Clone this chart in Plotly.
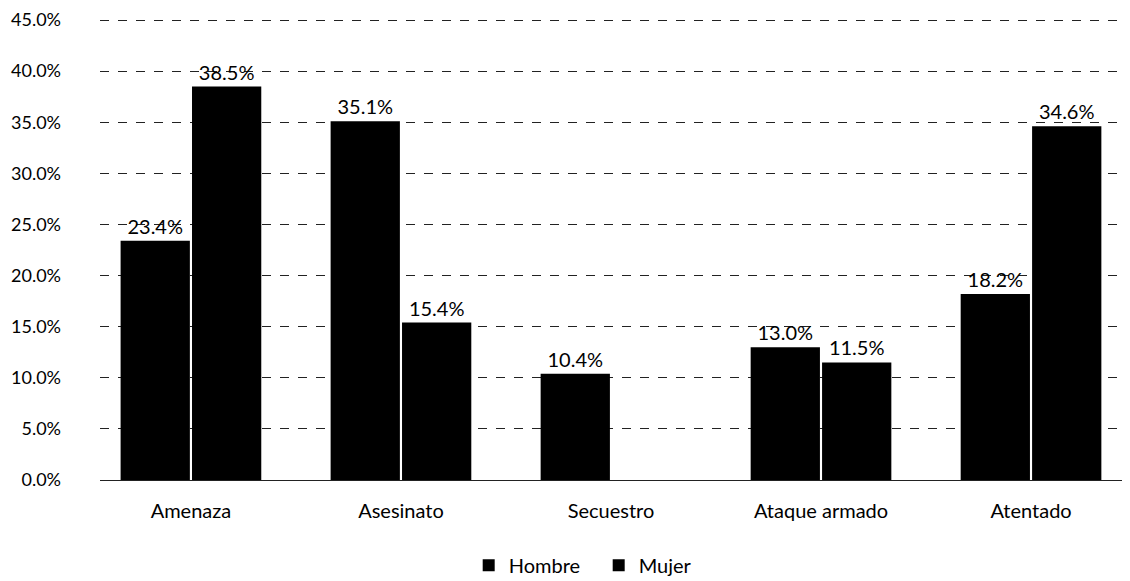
import plotly.graph_objects as go

categories = ["Amenaza", "Asesinato", "Secuestro", "Ataque armado", "Atentado"]
hombre = [23.4, 35.1, 10.4, 13.0, 18.2]
mujer = [38.5, 15.4, None, 11.5, 34.6]
tick_vals = [0, 5, 10, 15, 20, 25, 30, 35, 40, 45]

font = dict(family="Lato, 'Open Sans', sans-serif", size=20, color="black")
tickfont_y = dict(family="Lato, 'Open Sans', sans-serif", size=18, color="black")

fig = go.Figure()
fig.add_trace(go.Bar(
    x=categories, y=hombre, name="Hombre",
    marker=dict(color="black", line=dict(width=0)),
    texttemplate="%{y:.1f}%", textposition="outside",
    textfont=font, cliponaxis=False,
))
fig.add_trace(go.Bar(
    x=categories, y=mujer, name="Mujer",
    marker=dict(color="black", line=dict(width=0)),
    texttemplate="%{y:.1f}%", textposition="outside",
    textfont=font, cliponaxis=False,
))

fig.update_layout(
    width=1130, height=581,
    margin=dict(l=92, r=11, t=9, b=109, autoexpand=False),
    paper_bgcolor="white", plot_bgcolor="white",
    barmode="group", bargap=0.32, bargroupgap=0.03,
    font=font,
    showlegend=True,
    legend=dict(orientation="h", x=0.359, xanchor="left", y=-0.184, yanchor="middle",
                font=dict(family="Lato, sans-serif", size=20, color="black"),
                entrywidth=85, entrywidthmode="pixels", traceorder="normal"),
    xaxis=dict(
        range=[-0.433, 4.457], showline=False, ticks="", showgrid=False,
        tickfont=font, ticklabelstandoff=17, automargin=False,
    ),
    yaxis=dict(
        range=[0, 45.3], tickvals=tick_vals,
        ticktext=[f"{v:.1f}%" for v in tick_vals],
        showgrid=True, gridcolor="#222", gridwidth=1, griddash="dash",
        zeroline=True, zerolinecolor="#222", zerolinewidth=1,
        showline=False, ticks="", tickfont=tickfont_y, ticklabelstandoff=38,
        ticklabeloverflow="allow", automargin=False,
    ),
)

fig.write_html("out.html")
